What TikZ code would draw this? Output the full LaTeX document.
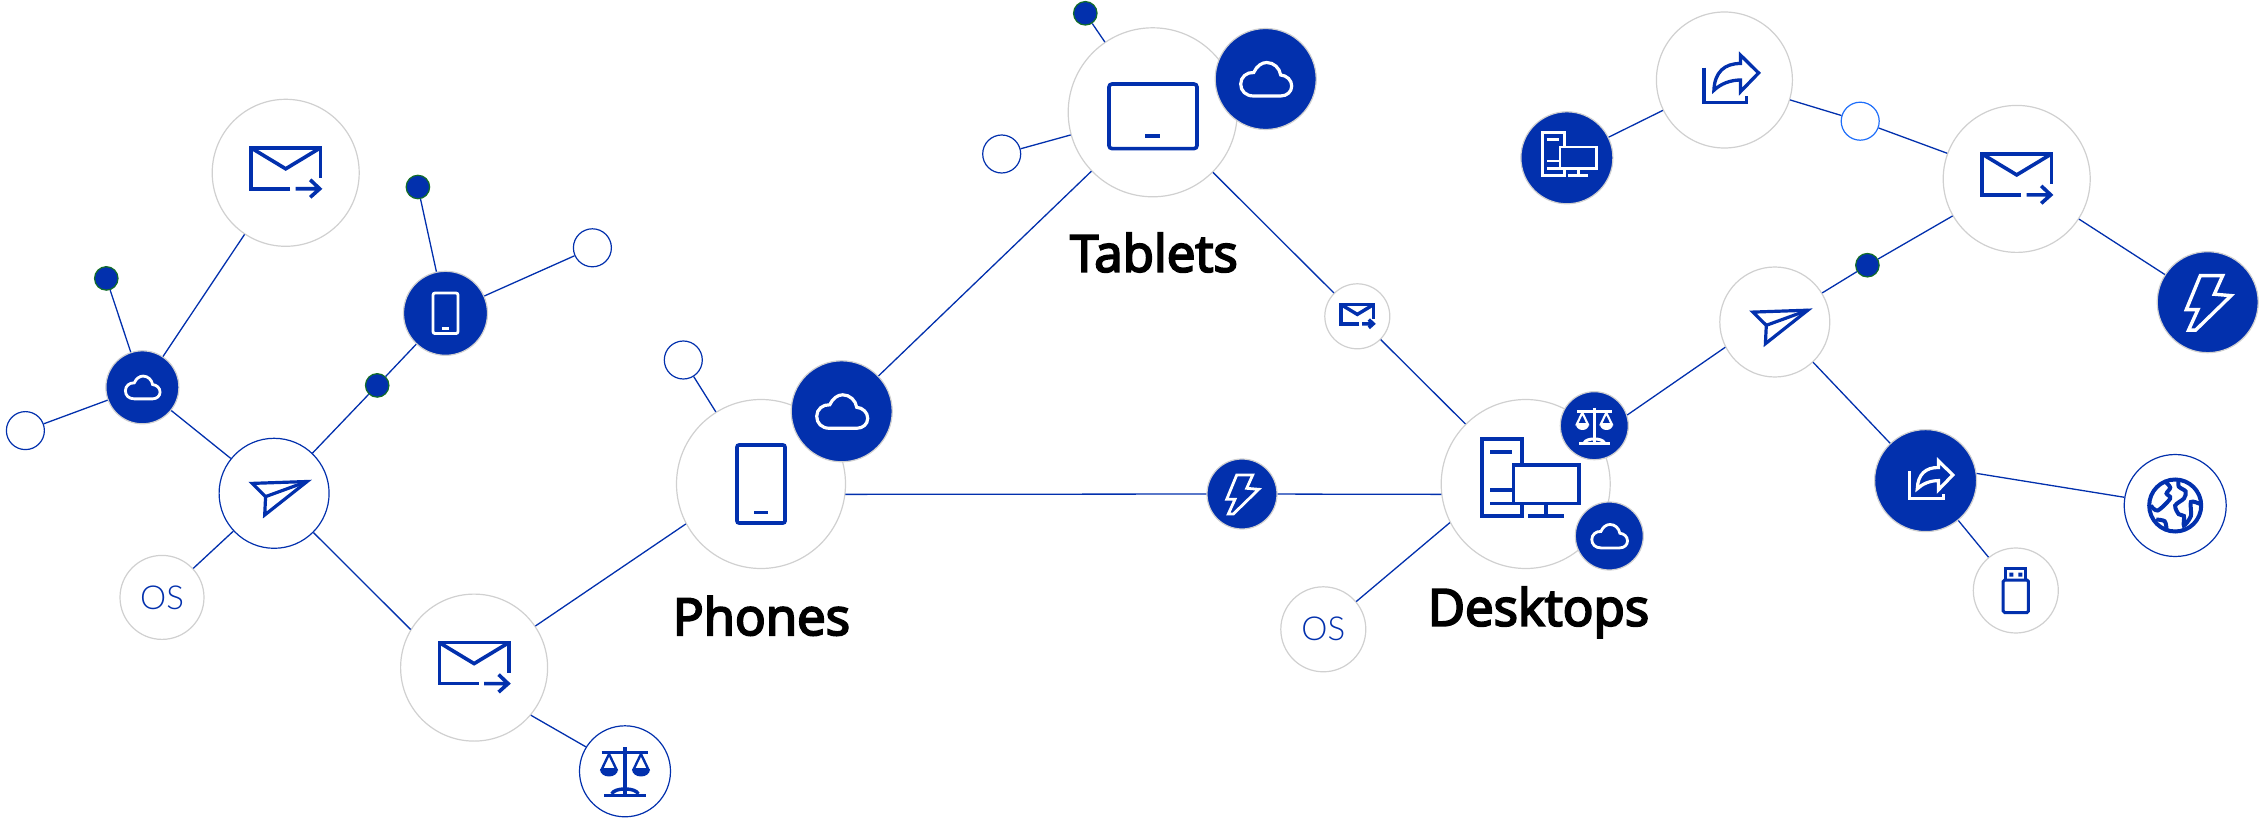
\documentclass[tikz,border=0pt]{standalone}
\usepackage{fontspec}
\setmainfont{Open Sans}
\newfontfamily\namefont{Open Sans}[RawFeature={embolden=4}]
\newfontfamily\osfont{Lato Light}
\definecolor{nodeblue}{RGB}{2,48,173}
\definecolor{ringgray}{RGB}{208,208,208}
\definecolor{dotgreen}{RGB}{20,110,40}
\definecolor{paleblue}{RGB}{30,110,250}
\def\icol{nodeblue}
\def\ifil{white}
\def\iwid{3.6}
\tikzset{
    ball/.style={circle, inner sep=0pt, line width=1.2pt, minimum size=#1},
    grayball/.style={ball=#1, draw=ringgray, fill=white},
    ringball/.style={ball=#1, draw=nodeblue, fill=white},
    fullball/.style={ball=#1, draw=ringgray, fill=nodeblue},
    dotball/.style={ball=23.5pt, draw=dotgreen, fill=nodeblue},
    emptyball/.style={ringball=38pt},
    link/.style={draw=nodeblue, line width=1.3pt},
    devname/.style={anchor=base, inner sep=0pt, font=\fontsize{51}{51}\selectfont\namefont},
    ostext/.style={text=nodeblue, font=\fontsize{33}{33}\selectfont\osfont},
    whiteicon/.code={\def\icol{white}\def\ifil{nodeblue}},
    iw/.code={\def\iwid{#1}},
    iconline/.style={draw=\icol, line width=\iwid pt, line join=miter},
    mailicon/.pic={
        \draw[iconline] (4.5,16)--(-34.8,16)--(-34.8,-25)--(34.8,-25)--(34.8,5);
        \draw[iconline] (-34.8,-25)--(0,-4)--(34.8,-25);
        \draw[iconline] (10,16)--(35,16) (24.5,7)--(34,16)--(24.5,24.5);
    },
    planeicon/.pic={
        \draw[iconline] (33,-11.8)--(-21.9,-9.9)--(-8.5,3.3)--(-9.4,21.7)--cycle;
        \draw[iconline] (-8.5,3.3)--(33,-11.8);
    },
    cloudicon/.pic={
        \draw[iconline] (-12,17) .. controls (-20,17) and (-25,12) .. (-25,5)
            .. controls (-25,-2) and (-19,-7) .. (-12,-6.5)
            .. controls (-9,-13) and (-4,-16.5) .. (1,-16.5)
            .. controls (8,-16.5) and (14,-11) .. (15,-4)
            .. controls (21,-3.5) and (26,1) .. (26,7)
            .. controls (26,13) and (21,17) .. (15,17) -- cycle;
    },
    phoneicon/.pic={
        \draw[iconline, rounded corners=2pt] (-24,-39) rectangle (24,39);
        \draw[iconline] (-7,28.5)--(7,28.5);
    },
    tableticon/.pic={
        \draw[iconline, rounded corners=3pt] (-43.7,-28.3) rectangle (44.3,36.3);
        \draw[iconline] (-7.3,24)--(7.7,24);
    },
    scaleicon/.pic={
        \draw[iconline] (-17.5,-14)--(17.5,-14) (0,-18)--(0,18) (-15.5,18)--(15.5,18);
        \draw[iconline] (-10,17) .. controls (-8,12) and (8,12) .. (10,17);
        \foreach \s in {-12,12}{
            \draw[draw=\icol, line width=\iwid pt*0.7] (\s,-13)--({\s-5.5},-1.5)--({\s+5.5},-1.5)--cycle;
            \fill[fill=\icol] ({\s-6.5},-1.5) .. controls ({\s-6.5},6) and ({\s+6.5},6) .. ({\s+6.5},-1.5) -- cycle;
        }
    },
    shareicon/.pic={
        \draw[iconline] (-20.8,-12.6)--(-20.8,23.1)--(22.8,23.1)--(22.8,16.8);
        \draw[iconline] (16.5,-16.8) .. controls (0,-17) and (-10,-8) .. (-10.7,10.5)
            .. controls (-4,4) and (6,0) .. (16.5,0)
            -- (16.5,11.8) -- (34.9,-7.2) -- (16.5,-25.3) -- cycle;
    },
    bolticon/.pic={
        \draw[iconline] (-5.3,-19)--(10.7,-19)--(4.7,-5.7)--(16.7,-4.7)--(-8.7,20)--(-13.7,20)--(-7,5.3)--(-15.3,5.3)--cycle;
    },
    deskicon/.pic={
        \draw[iconline] (-44,-45.3) rectangle (-4,32);
        \draw[iconline] (-35.7,-32.3)--(-13.3,-32.3) (-35.7,6)--(-11,6) (-35.7,19.3)--(-11,19.3);
        \draw[iconline, fill=\ifil] (-12.3,-19.3) rectangle (53,19.3);
        \draw[iconline] (20.3,19.3)--(20.3,31.7) (2.7,31.7)--(38.3,31.7);
    },
    usbicon/.pic={
        \draw[iconline, rounded corners=1.5pt] (-12.6,-10.5) rectangle (12.6,22);
        \draw[iconline] (-10,-10.5)--(-10,-22.3)--(10,-22.3)--(10,-10.5);
        \fill[fill=\icol] (-6.5,-18) rectangle (-2.5,-14) (2.5,-18) rectangle (6.5,-14);
    },
    globeicon/.pic={
        \draw[iconline] (0,0) circle (26);
        \draw[iconline] plot[smooth] coordinates {(-10.5,-24.5) (-5,-18) (-8.7,-12) (-5,-7) (-17.5,5) (-24.5,0)};
        \draw[iconline] plot[smooth] coordinates {(3.5,-26) (3.5,-19) (10.5,-14) (8.7,-7) (0,0) (3.5,8.7) (8.7,10.5) (8.7,20) (15.7,10.5) (15.7,-3.5) (24.5,-1.7)};
        \draw[iconline] plot[smooth] coordinates {(-19,14) (-10.5,15.7) (-8.7,23.4)};
    },
}
\begin{document}
\begin{tikzpicture}[x=1pt, y=-1pt]
    \useasboundingbox (0,0) rectangle (2260,818);
    % big device nodes first, their badges go on top
    \node[grayball=169pt] (phone) at (761,484) {};
    \node[grayball=169pt] (tablet) at (1152.7,112.3) {};
    \node[grayball=169pt] (desk) at (1525.7,484) {};
    \node[fullball=101pt] (phonecloud) at (841.7,411.3) {};
    \node[fullball=101pt] (tabletcloud) at (1265.7,79) {};
    \node[fullball=68pt] (deskscale) at (1594.3,425.7) {};
    \node[fullball=68pt] (deskcloud) at (1609.3,536) {};
    % the other gray nodes
    \foreach \nd/\x/\y/\d in {mailA/285.7/172.8/147, mailB/474.1/667.6/147, mailC/2016.7/178.9/147,
        mailS/1357.3/316.3/65, shareA/1724.4/80/136, planeB/1774.8/322/110, usb/2015.8/590.5/85}
        \node[grayball=\d pt] (\nd) at (\x,\y) {};
    \node[grayball=84pt, ostext] (osA) at (162,597.4) {OS};
    \node[grayball=85pt, ostext] (osB) at (1323.3,629.3) {OS};
    % blue rings
    \node[ringball=110pt] (planeA) at (274.1,493.3) {};
    \node[ringball=91pt] (scaleA) at (625,771.3) {};
    \node[ringball=102pt] (globe) at (2175.2,505.5) {};
    % full blue nodes
    \foreach \nd/\x/\y/\d in {cloudA/142.4/387.3/73, phoneA/445.5/313.3/84, bolt/1242/494/70,
        boltA/2207.7/302.2/101, shareB/1925.6/480.6/102, deskB/1566.9/157.8/92}
        \node[fullball=\d pt] (\nd) at (\x,\y) {};
    % small dots
    \foreach \nd/\x/\y in {dotA/106.3/278.4, dotB/417.9/187, dotC/377.2/385.4, dotD/1085.3/13.3, dotE/1867.4/265.2}
        \node[dotball] (\nd) at (\x,\y) {};
    \foreach \nd/\x/\y in {openA/25.4/430.6, openB/592.4/247.8, openC/683.3/360, openD/1001.7/154}
        \node[emptyball] (\nd) at (\x,\y) {};
    \node[ball=38pt, draw=paleblue, fill=white] (openE) at (1860.2,121.2) {};
    % connectors
    \foreach \p/\q in {dotA/cloudA, openA/cloudA, mailA/cloudA, cloudA/planeA, dotB/phoneA, openB/phoneA,
        phoneA/dotC, dotC/planeA, osA/planeA, planeA/mailB.149, mailB.-40/scaleA.148, mailB/phone.208,
        openC/phone, phonecloud/tablet, dotD/tablet, openD/tablet, tablet/mailS, mailS/desk,
        phone.-7/bolt, bolt/desk.187, osB/desk.207, deskscale.18/planeB.207, planeB/dotE, dotE/mailC,
        planeB/shareB, shareB.8.5/globe, shareB/usb, mailC/boltA, mailC/openE, openE/shareA, shareA/deskB}
        \draw[link] (\p) -- (\q);
    % icons
    \foreach \nd/\sz in {mailA/1, mailB/1, mailC/1}
        \pic[scale=\sz] at (\nd) {mailicon};
    \pic[scale=.47, iw=3.4] at (mailS) {mailicon};
    \pic at (phone) {phoneicon};
    \pic at (tablet) {tableticon};
    \pic at (desk) {deskicon};
    \pic[iw=3.2] at (planeA) {planeicon};
    \pic[iw=3.2] at (planeB) {planeicon};
    \pic[iw=3.4, scale=1.33] at (scaleA) {scaleicon};
    \pic[iw=3.3, scale=.98] at (shareA) {shareicon};
    \pic[iw=3] at (usb) {usbicon};
    \pic[iw=4] at (globe) {globeicon};
    \pic[whiteicon, iw=3.2] at (phonecloud) {cloudicon};
    \pic[whiteicon, iw=3.2] at (tabletcloud) {cloudicon};
    \pic[whiteicon, iw=2.8, scale=.7] at (deskcloud) {cloudicon};
    \pic[whiteicon, iw=2.8, scale=.68] at (cloudA) {cloudicon};
    \pic[whiteicon, iw=3] at (deskscale) {scaleicon};
    \pic[whiteicon, iw=2.8, scale=.52] at (phoneA) {phoneicon};
    \pic[whiteicon, iw=2.8] at (bolt) {bolticon};
    \pic[whiteicon, iw=3.4, scale=1.4] at (boltA) {bolticon};
    \pic[whiteicon, iw=3.2, scale=.78] at (shareB) {shareicon};
    \pic[whiteicon, iw=2.6, scale=.56] at (deskB) {deskicon};
    % device names
    \node[devname] (phonename) at (761.5,635) {Phones};
    \node[devname] (tabletname) at (1154,271.7) {Tablets};
    \node[devname] (deskname) at (1538.5,625.7) {Desktops};
\end{tikzpicture}
\end{document}
